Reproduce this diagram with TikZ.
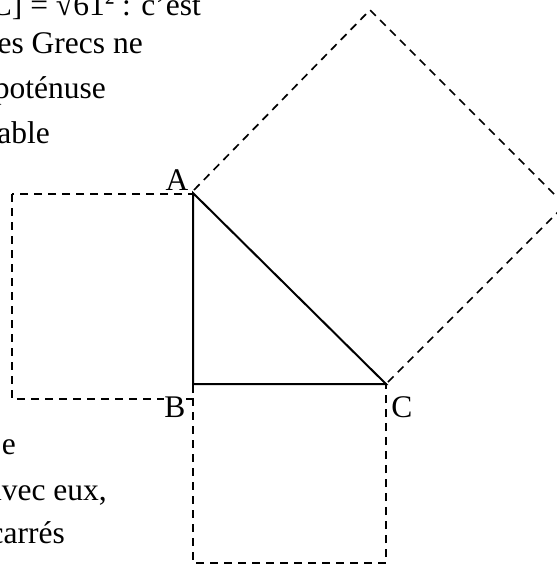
\documentclass[tikz,border=0pt]{standalone}
\usepackage{fontspec}
\setmainfont{Liberation Serif}
\usetikzlibrary{positioning}

\begin{document}
\begin{tikzpicture}[
  x=1pt, y=-1pt,
  font=\fontsize{31.5}{36}\selectfont,
  side/.style={line width=1.7pt, dash pattern=on 8pt off 6pt},
  leg/.style={line width=2pt, line join=miter},
  vertex/.style={fill=white, inner sep=0pt, anchor=base},
  prose/.style={anchor=base east, inner sep=0pt},
]
\useasboundingbox (0,0) rectangle (557,566);
\clip (0,0) rectangle (557,566);
% corners of the triangle
\coordinate (A) at (193,193);
\coordinate (B) at (193,384);
\coordinate (C) at (386,384);
% corners of the squares
\coordinate (sqAB) at (12,194);
\coordinate (sqABb) at (193,399);
\coordinate (sqBC) at (386,563);
\coordinate (sqACa) at (194,190);
\coordinate (sqACt) at (370,10);
\coordinate (sqACr) at (565,205);
\coordinate (sqACc) at (387,383);
% dashed squares
\draw[side] (sqAB) rectangle (sqABb);
\draw[side] (B) rectangle (sqBC);
\draw[side] (sqACa) -- (sqACt) -- (sqACr) -- (sqACc);
% triangle
\draw[leg] (A) -- (B) -- (C) -- cycle;
% vertex labels
\node[vertex] (labA) at (177,190) {A};
\node[vertex] (labB) at (175,417) {B};
\node[vertex] (labC) at (402,417) {C};
% surrounding text, cut by the frame
\node[prose] (l1) at (201,15) {C] = √61\raisebox{3pt}{²} : c'est};
\node[prose] (l2) at (143,53) {es Grecs ne};
\node[prose] (l3) at (106,98) {poténuse};
\node[prose] (l4) at (50,143) {able};
\node[prose] (l5) at (16,454) {e};
\node[prose] (l6) at (107,500) {avec eux,};
\node[prose] (l7) at (65,543) {carrés};
\end{tikzpicture}
\end{document}
